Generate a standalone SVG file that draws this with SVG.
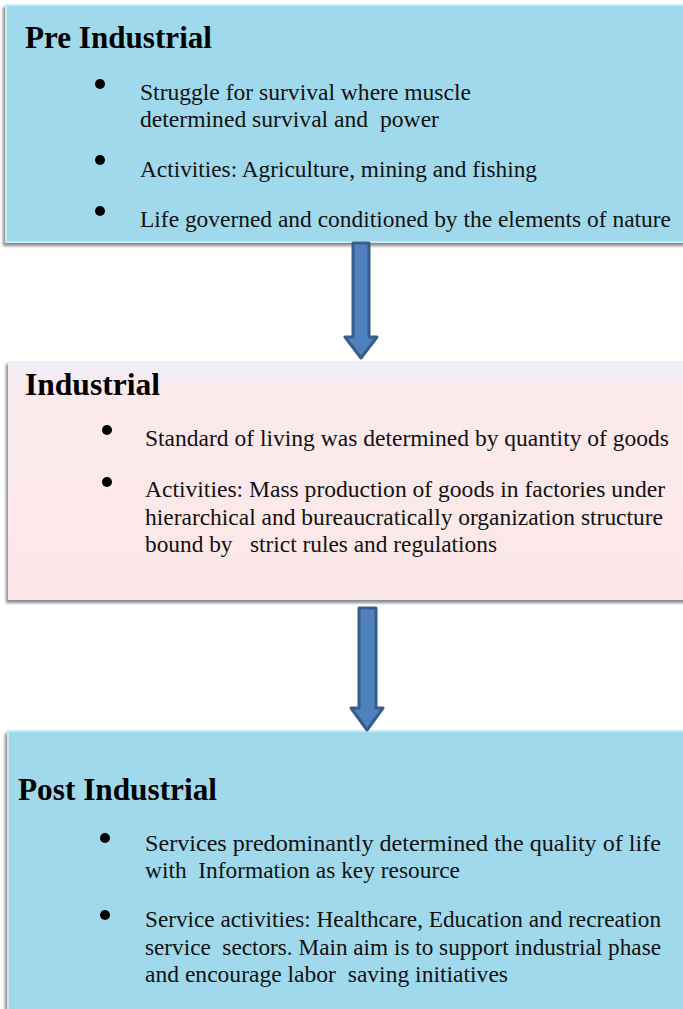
<svg xmlns="http://www.w3.org/2000/svg" width="683" height="1009" viewBox="0 0 683 1009">
  <style>
    .title { font-family: "Liberation Serif", serif; font-weight: bold; font-size: 32px; fill: #000; }
    .body { font-family: "Liberation Serif", serif; font-weight: normal; font-size: 22.5px; fill: #111; }
    .bullet { fill: #000; }
    .box-blue { fill: #a0d9eb; stroke: #c9eaf4; stroke-width: 2; }
    .box-pink { fill: url(#pinkFill); stroke: #f1ecf1; stroke-width: 2; }
    .arrow { fill: #4f81bd; stroke: #385d8a; stroke-width: 3; stroke-linejoin: round; }
  </style>
  <defs>
    <linearGradient id="pinkFill" x1="0" y1="0" x2="0" y2="1">
      <stop offset="0" stop-color="#efeff8"/>
      <stop offset="0.12" stop-color="#fbe9ec"/>
      <stop offset="1" stop-color="#fde8e8"/>
    </linearGradient>
    <filter id="shadow" x="-5%" y="-5%" width="110%" height="115%">
      <feDropShadow dx="-2" dy="3" stdDeviation="1.5" flood-color="#6b6b6b" flood-opacity="0.8"/>
    </filter>
  </defs>

  <rect width="683" height="1009" fill="#ffffff"/>

  <!-- Pre Industrial -->
  <g id="pre-industrial">
    <rect class="box-blue" x="6" y="5" width="690" height="237" filter="url(#shadow)"/>
    <text class="title" x="25" y="48" textLength="187" lengthAdjust="spacingAndGlyphs">Pre Industrial</text>
    <circle class="bullet" cx="100" cy="84" r="5"/>
    <text class="body" x="140" y="100" textLength="331" lengthAdjust="spacingAndGlyphs">Struggle for survival where muscle</text>
    <text class="body" x="140" y="127" textLength="299" lengthAdjust="spacingAndGlyphs" xml:space="preserve">determined survival and  power</text>
    <circle class="bullet" cx="100" cy="160" r="5"/>
    <text class="body" x="140" y="177" textLength="397" lengthAdjust="spacingAndGlyphs">Activities: Agriculture, mining and fishing</text>
    <circle class="bullet" cx="100" cy="211" r="5"/>
    <text class="body" x="140" y="227" textLength="531" lengthAdjust="spacingAndGlyphs">Life governed and conditioned by the elements of nature</text>
  </g>

  <!-- Industrial -->
  <g id="industrial">
    <rect class="box-pink" x="9" y="362" width="690" height="237" filter="url(#shadow)"/>
    <text class="title" x="25" y="395" textLength="135" lengthAdjust="spacingAndGlyphs">Industrial</text>
    <circle class="bullet" cx="107" cy="430" r="5"/>
    <text class="body" x="145" y="446" textLength="524" lengthAdjust="spacingAndGlyphs">Standard of living was determined by quantity of goods</text>
    <circle class="bullet" cx="107" cy="482" r="5"/>
    <text class="body" x="145" y="497" textLength="520" lengthAdjust="spacingAndGlyphs">Activities: Mass production of goods in factories under</text>
    <text class="body" x="145" y="525" textLength="518" lengthAdjust="spacingAndGlyphs">hierarchical and bureaucratically organization structure</text>
    <text class="body" x="145" y="552" textLength="352" lengthAdjust="spacingAndGlyphs" xml:space="preserve">bound by   strict rules and regulations</text>
  </g>

  <!-- Post Industrial -->
  <g id="post-industrial">
    <rect class="box-blue" x="8" y="731" width="690" height="290" filter="url(#shadow)"/>
    <text class="title" x="18" y="800" textLength="199" lengthAdjust="spacingAndGlyphs">Post Industrial</text>
    <circle class="bullet" cx="105" cy="838" r="5"/>
    <text class="body" x="145" y="851" textLength="516" lengthAdjust="spacingAndGlyphs">Services predominantly determined the quality of life</text>
    <text class="body" x="145" y="878" textLength="315" lengthAdjust="spacingAndGlyphs" xml:space="preserve">with  Information as key resource</text>
    <circle class="bullet" cx="105" cy="915" r="5"/>
    <text class="body" x="145" y="927" textLength="516" lengthAdjust="spacingAndGlyphs">Service activities: Healthcare, Education and recreation</text>
    <text class="body" x="145" y="955" textLength="516" lengthAdjust="spacingAndGlyphs" xml:space="preserve">service  sectors. Main aim is to support industrial phase</text>
    <text class="body" x="145" y="982" textLength="363" lengthAdjust="spacingAndGlyphs" xml:space="preserve">and encourage labor  saving initiatives</text>
  </g>

  <!-- Connectors -->
  <g id="connectors">
    <path class="arrow" d="M353 243 H369 V337 H377 L361 358 L345 337 H353 Z"/>
    <path class="arrow" d="M359 608 H376 V708 H383 L367 730 L351 708 H359 Z"/>
  </g>
</svg>
